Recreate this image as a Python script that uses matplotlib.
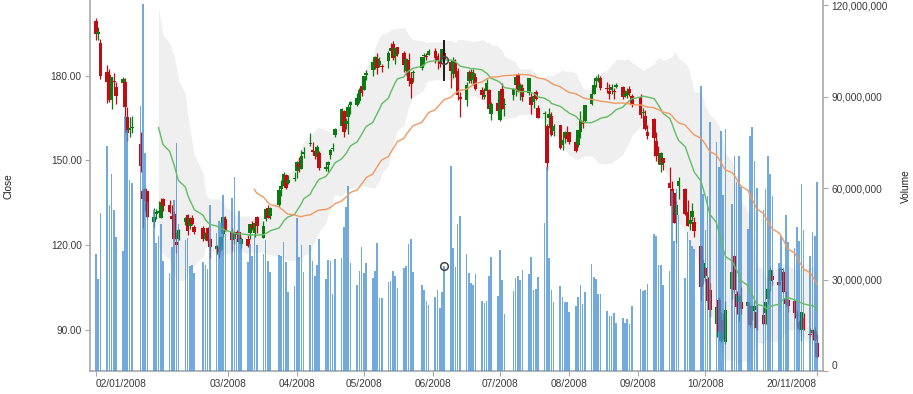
import numpy as np
import pandas as pd
import matplotlib
matplotlib.use("Agg")
import matplotlib.pyplot as plt
import matplotlib.dates as mdates
from matplotlib.ticker import FuncFormatter

# trading days, Jan 2 .. Nov 20 2008 (US market holidays removed)
holidays = ["2008-01-21", "2008-02-18", "2008-03-21", "2008-05-26", "2008-07-04", "2008-09-01"]
dates = pd.bdate_range("2008-01-02", "2008-11-20")
dates = dates[~dates.isin(pd.to_datetime(holidays))]

# daily prices, month by month
open_ = [
    199.27, 195.41, 191.45, 181.25, 180.14, 171.30, 177.58, 176.00, 177.52, 177.72, 165.23, 161.51, 161.71, 148.06, 136.19, 139.99, 138.99, 128.16, 131.15, 131.37, 129.45,
    136.24, 134.21, 130.43, 130.83, 119.97, 122.08, 128.01, 130.70, 126.68, 129.40, 126.27, 125.99, 122.20, 126.05, 122.10, 118.59, 117.64, 118.23, 123.91, 129.29,
    124.44, 121.99, 123.58, 124.61, 120.41, 121.98, 124.10, 127.04, 124.10, 129.88, 122.55, 129.18, 133.12, 130.35, 134.01, 139.96, 140.87, 144.95, 141.80, 143.27,
    146.30, 148.78, 147.06, 152.19, 156.13, 153.55, 153.31, 151.13, 152.72, 146.77, 149.40, 151.72, 154.17, 159.12, 162.21, 167.40, 164.05, 165.34, 170.70, 169.75, 171.11, 176.19,
    174.96, 180.19, 181.92, 184.66, 186.05, 183.77, 183.16, 185.21, 188.61, 191.23, 186.81, 190.11, 187.86, 181.82, 185.67, 179.26, 180.77, 182.75, 187.41, 186.76, 187.45,
    188.60, 186.86, 184.02, 185.69, 188.00, 184.79, 180.51, 184.34, 181.49, 171.64, 171.30, 178.10, 181.12, 178.55, 179.35, 174.74, 172.37, 174.61, 174.87, 166.51, 170.19,
    164.23, 175.20, 169.59, 173.16, 176.63, 180.20, 174.92, 175.47, 179.24, 172.48, 170.50, 174.10, 168.52, 166.90, 149.00, 164.99, 165.85, 160.40, 162.34, 155.41, 157.78, 157.54,
    159.90, 156.60, 155.42, 159.97, 162.71, 163.86, 170.07, 173.52, 177.98, 178.33, 179.04, 175.57, 174.54, 174.77, 174.47, 175.82, 176.15, 172.76, 173.31, 175.28, 172.96,
    172.40, 166.84, 165.86, 158.59, 164.57, 156.86, 152.32, 148.18, 150.91, 142.03, 133.86, 138.49, 130.57, 142.60, 139.94, 131.85, 127.27, 129.80, 124.91, 119.62, 108.25,
    111.92, 108.01, 104.00, 91.96, 100.48, 85.91, 93.35, 85.70, 104.55, 116.26, 102.61, 99.78, 99.92, 99.78, 98.46, 96.55, 97.06, 90.44, 95.07, 95.76, 100.95, 107.19, 109.07,
    105.93, 111.47, 110.60, 101.04, 100.43, 100.17, 94.86, 92.80, 89.90, 94.17, 88.48, 88.85, 89.50, 85.44,
]
high = [
    200.26, 197.39, 193.00, 183.60, 182.46, 179.50, 181.00, 177.85, 179.42, 179.22, 169.01, 165.36, 165.75, 159.98, 140.00, 140.70, 139.09, 133.20, 132.79, 135.45, 136.65,
    136.59, 135.90, 134.00, 131.92, 124.78, 125.70, 129.98, 131.00, 129.78, 130.80, 127.08, 126.75, 124.60, 126.47, 122.50, 120.17, 121.09, 123.05, 129.91, 130.21,
    125.98, 124.88, 125.14, 124.70, 122.98, 123.46, 127.48, 128.68, 129.50, 130.30, 128.59, 133.00, 134.29, 133.56, 140.85, 143.10, 145.74, 145.31, 144.65, 145.71,
    149.66, 151.20, 153.63, 154.71, 159.69, 156.45, 153.89, 155.42, 153.30, 149.25, 149.72, 154.10, 156.00, 161.35, 168.50, 168.00, 164.84, 169.98, 171.10, 173.75, 175.66, 180.00,
    180.00, 181.92, 185.31, 187.12, 188.20, 186.50, 184.25, 188.87, 191.45, 192.24, 189.90, 190.30, 188.69, 186.16, 187.95, 181.33, 181.99, 186.43, 187.95, 188.20, 189.54,
    189.65, 188.20, 187.09, 189.50, 189.95, 184.94, 186.78, 186.00, 182.60, 174.16, 177.90, 181.99, 182.20, 182.34, 181.00, 175.88, 175.78, 178.83, 175.25, 170.57, 172.00,
    174.72, 177.45, 172.17, 175.51, 179.79, 180.91, 177.34, 177.11, 179.30, 173.74, 172.93, 174.98, 169.65, 167.50, 162.76, 168.37, 167.00, 163.00, 162.47, 159.45, 160.49, 162.20,
    159.99, 157.90, 160.80, 167.40, 166.15, 169.65, 176.50, 179.29, 180.00, 180.45, 179.75, 177.81, 177.07, 176.94, 175.45, 177.50, 176.23, 174.88, 175.76, 176.25, 173.50,
    173.50, 168.68, 167.91, 162.40, 164.89, 159.96, 154.99, 152.99, 150.91, 147.69, 142.50, 138.51, 135.43, 144.20, 140.25, 135.80, 130.95, 134.79, 129.80, 119.68, 115.00,
    112.36, 108.79, 106.50, 98.78, 101.50, 96.33, 95.80, 100.00, 110.53, 116.40, 103.66, 102.50, 105.00, 99.78, 98.80, 98.77, 100.00, 99.00, 98.00, 99.80, 108.56, 112.20, 111.24,
    111.79, 112.00, 111.45, 103.70, 100.67, 100.68, 97.04, 93.55, 96.44, 95.80, 90.49, 90.25, 90.99, 88.38,
]
low = [
    192.55, 192.69, 178.89, 170.23, 170.80, 168.30, 175.41, 170.00, 175.17, 164.66, 156.70, 158.42, 159.61, 146.00, 126.14, 132.01, 129.61, 126.45, 129.05, 130.00, 129.40,
    132.18, 131.42, 128.90, 121.77, 117.27, 121.60, 127.20, 123.62, 125.63, 127.01, 124.06, 121.44, 121.68, 120.86, 115.54, 116.66, 115.44, 118.09, 123.00, 124.80,
    118.00, 120.40, 122.25, 120.93, 119.05, 119.37, 122.00, 125.17, 123.00, 124.20, 122.55, 128.67, 129.67, 129.15, 133.64, 137.33, 140.64, 139.99, 141.60, 142.52,
    143.61, 145.85, 147.00, 150.75, 155.11, 152.32, 150.46, 150.60, 146.40, 146.06, 145.72, 150.62, 153.35, 158.20, 161.76, 158.09, 161.08, 159.19, 166.42, 169.13, 170.25, 172.92,
    174.86, 178.55, 180.00, 182.18, 180.54, 183.07, 181.37, 182.85, 187.86, 185.57, 184.20, 187.00, 181.30, 180.12, 176.25, 172.00, 177.80, 181.84, 183.72, 185.50, 187.38,
    184.53, 182.34, 183.23, 185.32, 185.55, 175.75, 179.02, 179.59, 171.20, 165.31, 169.07, 177.41, 177.35, 176.80, 175.00, 171.56, 171.63, 173.88, 168.16, 164.15, 166.62,
    164.00, 168.18, 165.75, 171.23, 172.67, 174.14, 171.37, 171.00, 173.08, 166.39, 168.60, 171.39, 165.00, 161.12, 146.53, 161.56, 158.74, 158.65, 154.02, 153.65, 156.08, 156.98,
    155.75, 152.91, 154.82, 158.00, 161.50, 163.75, 169.67, 173.51, 175.90, 177.84, 175.05, 173.82, 171.81, 173.61, 171.89, 175.57, 171.66, 172.61, 172.19, 172.75, 169.04,
    165.00, 164.00, 160.81, 157.65, 151.46, 149.79, 148.80, 146.00, 146.50, 140.36, 130.30, 127.83, 120.68, 136.31, 130.66, 126.66, 125.15, 128.52, 123.00, 100.59, 106.30,
    107.39, 100.00, 94.65, 87.54, 88.95, 85.68, 86.60, 85.00, 101.02, 103.14, 95.71, 93.00, 95.73, 95.47, 91.12, 93.50, 90.51, 90.00, 91.80, 92.01, 99.20, 103.81, 105.92,
    105.72, 107.73, 103.10, 98.50, 96.23, 94.20, 91.24, 89.92, 86.02, 89.88, 87.25, 86.25, 86.06, 80.06,
]
close = [
    194.84, 194.93, 180.05, 177.64, 171.25, 179.40, 178.02, 172.69, 178.78, 169.04, 159.64, 160.89, 161.36, 155.64, 139.07, 135.60, 130.01, 130.01, 131.54, 132.18, 135.36,
    133.75, 131.65, 129.36, 122.00, 121.24, 125.48, 129.45, 124.86, 129.40, 127.46, 124.63, 122.18, 123.82, 121.54, 119.46, 119.74, 119.15, 122.96, 129.91, 125.02,
    121.73, 124.62, 124.49, 120.93, 122.25, 119.69, 127.35, 126.03, 127.94, 126.61, 126.73, 132.82, 129.67, 133.27, 139.53, 140.98, 145.06, 140.25, 143.01, 143.50,
    149.53, 147.49, 151.61, 153.08, 155.89, 152.84, 151.44, 154.55, 147.14, 147.78, 148.38, 153.70, 154.49, 161.04, 168.16, 160.20, 162.89, 168.94, 169.73, 172.24, 175.05, 173.95,
    180.00, 180.94, 184.73, 186.66, 182.59, 185.06, 183.45, 188.16, 189.96, 186.26, 189.73, 187.62, 183.60, 185.90, 178.19, 177.05, 181.17, 186.43, 187.01, 186.69, 188.75,
    186.10, 185.37, 185.19, 189.43, 185.64, 181.61, 185.64, 180.81, 173.26, 172.37, 176.84, 181.43, 178.75, 180.90, 175.27, 173.16, 173.25, 177.39, 168.26, 170.09, 167.44,
    174.68, 168.18, 170.12, 175.16, 179.55, 174.25, 176.63, 172.58, 173.88, 169.64, 172.81, 171.81, 165.15, 166.29, 162.02, 166.26, 159.03, 162.12, 154.40, 157.08, 159.88, 158.95,
    156.66, 153.23, 160.64, 164.19, 163.57, 169.55, 173.56, 176.73, 179.30, 179.32, 175.74, 175.39, 173.53, 175.84, 174.29, 176.79, 172.55, 173.64, 174.67, 173.74, 169.53,
    166.19, 166.96, 161.22, 160.18, 157.92, 151.68, 151.61, 152.65, 148.94, 140.36, 139.88, 127.83, 134.09, 140.91, 131.05, 126.84, 128.71, 131.93, 128.24, 105.26, 113.66,
    109.12, 100.10, 97.07, 98.14, 89.16, 89.79, 88.74, 96.80, 110.26, 104.08, 97.95, 101.89, 97.40, 98.44, 91.49, 96.87, 98.23, 96.38, 92.09, 99.91, 104.55, 111.04, 107.59,
    106.96, 110.99, 103.30, 99.10, 98.24, 95.88, 94.77, 90.12, 96.44, 90.24, 88.14, 89.91, 86.29, 80.49,
]
# volume in millions of shares
volume_m = [
    38.5, 30.1, 51.9, 74.0, 54.4, 64.8, 52.9, 44.0, 39.3, 83.7, 79.1, 62.8, 61.6, 86.9, 120.5, 71.6, 55.5, 52.7, 42.1, 44.4, 48.1,
    36.1, 32.1, 40.8, 56.2, 74.8, 48.4, 43.0, 43.7, 34.6, 34.8, 32.2, 35.9, 34.7, 33.5, 54.6, 45.4, 49.3, 48.6, 57.7, 44.9,
    56.9, 63.6, 43.4, 52.6, 43.4, 35.9, 41.6, 37.8, 45.1, 41.3, 38.3, 43.0, 36.1, 32.5, 38.2, 37.6, 42.2, 35.7, 26.0, 27.8,
    50.2, 37.3, 41.4, 32.6, 41.4, 36.2, 31.2, 34.8, 43.2, 30.2, 36.6, 36.1, 25.2, 36.7, 37.1, 47.4, 53.7, 60.6, 35.6, 28.1, 32.9, 40.7,
    32.3, 35.6, 30.5, 32.8, 41.9, 24.0, 24.0, 29.2, 29.4, 32.7, 31.2, 27.3, 33.7, 34.6, 41.8, 43.4, 32.4, 28.2, 26.6, 23.1, 21.8,
    24.3, 26.7, 20.7, 26.0, 34.4, 67.4, 40.5, 34.0, 48.2, 50.9, 38.5, 32.1, 28.9, 28.3, 31.7, 23.1, 22.2, 23.0, 31.1, 37.3, 24.5,
    39.7, 29.9, 18.7, 26.2, 30.5, 31.3, 30.0, 33.2, 31.8, 37.3, 26.7, 27.0, 31.0, 48.6, 67.1, 37.1, 26.6, 22.7, 27.9, 24.2, 22.5, 22.8,
    19.5, 21.2, 24.4, 28.3, 22.0, 26.0, 35.0, 30.8, 30.1, 25.4, 25.3, 19.7, 18.1, 18.1, 19.2, 15.7, 17.3, 15.9, 17.0, 15.4, 21.4,
    26.8, 26.2, 26.5, 28.4, 45.0, 44.4, 34.8, 34.7, 28.3, 32.9, 59.1, 42.8, 59.8, 51.1, 30.6, 45.7, 42.9, 40.9, 40.2, 93.6, 58.1,
    46.3, 57.5, 81.9, 75.3, 67.1, 78.8, 57.8, 79.3, 54.9, 70.7, 62.0, 70.6, 60.5, 46.7, 77.2, 80.2, 68.9, 60.0, 52.8, 59.7, 70.7, 64.7, 57.6,
    35.3, 44.3, 33.9, 51.2, 42.5, 40.3, 47.3, 42.7, 61.5, 46.2, 37.8, 45.6, 44.2, 62.2,
]
assert len(dates) == len(open_) == len(high) == len(low) == len(close) == len(volume_m)

# hovered candle (crosshair marker in the original screenshot)
hover_date = "2008-06-06"
hover_range = (178.2, 192.5)

tick_dates = ["2008-01-02", "2008-03-01", "2008-04-01", "2008-05-01", "2008-06-01",
              "2008-07-01", "2008-08-01", "2008-09-01", "2008-10-01", "2008-11-20"]
tick_labels = ["02/01/2008", "03/2008", "04/2008", "05/2008", "06/2008",
               "07/2008", "08/2008", "09/2008", "10/2008", "20/11/2008"]

# indicators: 20-day Bollinger band, 20 and 50 day moving averages
o = np.array(open_)
h = np.array(high)
l = np.array(low)
c = np.array(close)
v = np.array(volume_m) * 1e6
cs = pd.Series(c, index=dates)
sma20 = cs.rolling(20).mean()
sd20 = cs.rolling(20).std(ddof=0)
upper = sma20 + 2 * sd20
lower = sma20 - 2 * sd20
sma50 = cs.rolling(50).mean()

x = mdates.date2num(dates.to_pydatetime())
prev = np.concatenate([[o[0]], c[:-1]])
RED, GREEN = "#bf0d14", "#0b7a12"
cols = np.where(c >= prev, GREEN, RED)

plt.rcParams["font.family"] = ["Liberation Sans", "DejaVu Sans"]
fig = plt.figure(figsize=(9.13, 3.94), dpi=100)
ax = fig.add_axes([90 / 913, 23 / 394, 733 / 913, 371 / 394])

ax.fill_between(x, lower.values, upper.values, color="#efefef", lw=0, zorder=1)
ax.vlines(x, l, h, colors=cols, lw=0.9, zorder=2)
body = np.maximum(np.abs(c - o), 0.35)
ax.bar(x, body, bottom=np.minimum(o, c), width=1.6, color=cols, lw=0, zorder=3)

ax2 = ax.twinx()
ax2.bar(x, v, width=0.72, color="#4a92d4", alpha=0.78, lw=0, zorder=1)
ax2.plot(x, sma20.values, color="#62bd62", lw=1.0, transform=ax.transData, zorder=4)
ax2.plot(x, sma50.values, color="#f09a62", lw=1.0, transform=ax.transData, zorder=4)

# hover marker
hi = dates.get_loc(pd.Timestamp(hover_date))
ax2.vlines(x[hi], hover_range[0], hover_range[1], colors="#1a1a1a", lw=1.4,
           transform=ax.transData, zorder=5)
ax2.plot(x[hi], c[hi], "o", ms=5.5, mfc="none", mec="#444444", mew=1.1,
         transform=ax.transData, zorder=6)
ax2.plot(x[hi], v[hi], "o", ms=5.5, mfc="none", mec="#444444", mew=1.1, zorder=6)

ax.set_xlim(x[0] - 2.7, x[0] + 325.7)
ax.set_ylim(75.36, 206.8)
ax2.set_ylim(0, 121.8e6)

ax.set_xticks(mdates.date2num(pd.to_datetime(tick_dates).to_pydatetime()))
ax.set_xticklabels(tick_labels)
ax.set_yticks([90, 120, 150, 180])
ax.yaxis.set_major_formatter(FuncFormatter(lambda val, pos: f"{val:.2f}"))
ax2.set_yticks([0, 30e6, 60e6, 90e6, 120e6])
ax2.yaxis.set_major_formatter(FuncFormatter(lambda val, pos: f"{val:,.0f}"))

axis_grey = "#a9a9a9"
for a in (ax, ax2):
    for side in ("top", "left", "right", "bottom"):
        a.spines[side].set_visible(False)
    a.tick_params(length=3.5, width=0.8, color=axis_grey, labelsize=7.3,
                  labelcolor="#3a3a3a", pad=2.5)
ax.spines["left"].set_visible(True)
ax.spines["bottom"].set_visible(True)
ax2.spines["right"].set_visible(True)
for s in (ax.spines["left"], ax.spines["bottom"], ax2.spines["right"]):
    s.set_color(axis_grey)
    s.set_linewidth(1.2)

xt = ax.xaxis.get_major_ticks()
xt[0].label1.set_horizontalalignment("left")
xt[-1].label1.set_horizontalalignment("right")
ax2.yaxis.get_major_ticks()[0].label2.set_verticalalignment("bottom")

fig.text(9 / 913, 1 - 186 / 394, "Close", rotation=90, ha="center", va="center",
         fontsize=7.3, color="#222222")
fig.text(906 / 913, 1 - 186 / 394, "Volume", rotation=90, ha="center", va="center",
         fontsize=7.3, color="#222222")

fig.savefig("out.png", dpi=100)
